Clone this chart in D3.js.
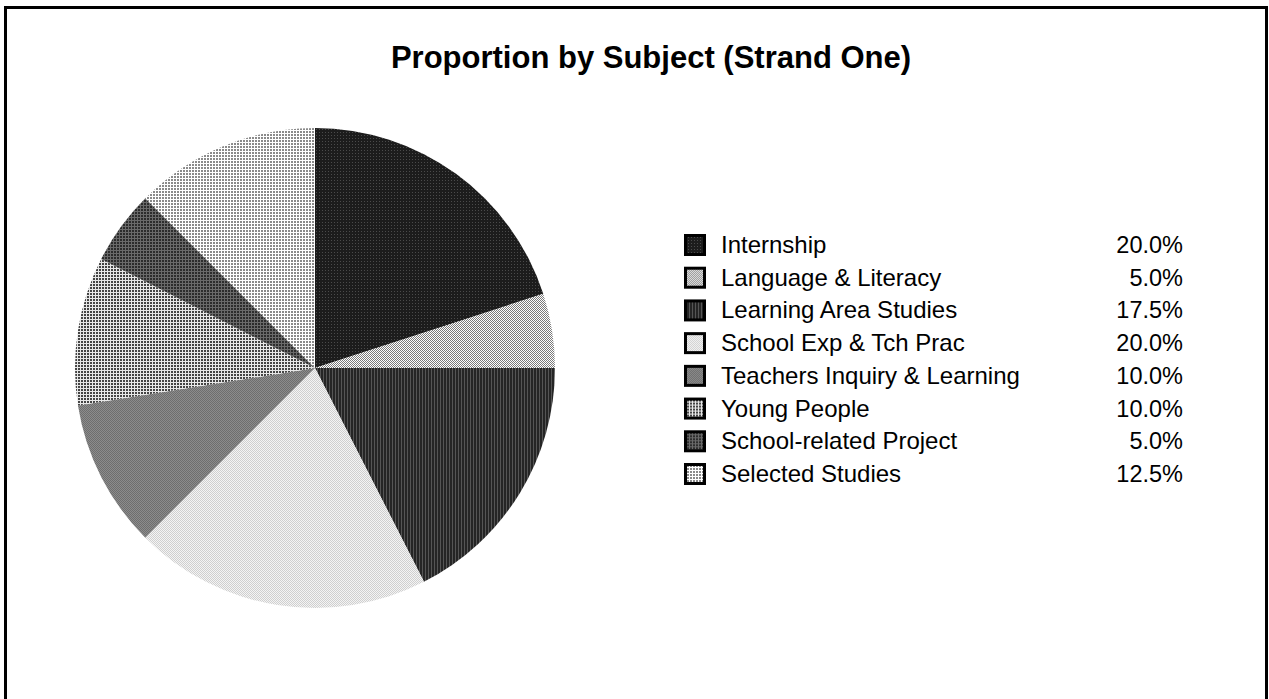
<!DOCTYPE html>
<html>
<head>
<meta charset="utf-8">
<script src="https://cdn.jsdelivr.net/npm/d3@7"></script>
<style>
  body { margin: 0; background: #fff; }
  svg { display: block; font-family: Arial, "Liberation Sans", sans-serif; }
</style>
</head>
<body>
<div id="chart"></div>
<script>
// ----------------------------------------------------------------------------
// Data
// ----------------------------------------------------------------------------

const subjects = ['Internship', 'Language & Literacy', 'Learning Area Studies', 'School Exp & Tch Prac',
  'Teachers Inquiry & Learning', 'Young People', 'School-related Project', 'Selected Studies'];
const shares = [20.0, 5.0, 17.5, 20.0, 10.0, 10.0, 5.0, 12.5];
const titleText = 'Proportion by Subject (Strand One)';

// fill patterns, one per slice (base colour, dot colour, tile type)
const patternDefs = [
  {bg: '#1c1c1c', fg: '#4a4a4a', kind: 'dot3'},
  {bg: '#7a7a7a', fg: '#ffffff', kind: 'check'},
  {bg: '#252525', fg: '#555555', kind: 'vstripe'},
  {bg: '#cfcfcf', fg: '#f4f4f4', kind: 'check'},
  {bg: '#6e6e6e', fg: '#8c8c8c', kind: 'check'},
  {bg: '#e8e8e8', fg: '#444444', kind: 'grid'},
  {bg: '#6a6a6a', fg: '#2c2c2c', kind: 'grid'},
  {bg: '#ffffff', fg: '#8a8a8a', kind: 'grid'},
];

const W = 1269, H = 699;

const svg = d3.select('#chart').append('svg')
  .attr('width', W)
  .attr('height', H);

// ----------------------------------------------------------------------------
// patterns
const defs = svg.append('defs');
patternDefs.forEach((p, i) => {
  const size = p.kind == 'check' ? 2 : 3;
  const pat = defs.append('pattern')
    .attr('id', `pat${i}`)
    .attr('patternUnits', 'userSpaceOnUse')
    .attr('width', size)
    .attr('height', size);
  pat.append('rect').attr('width', size).attr('height', size).attr('fill', p.bg);
  if (p.kind == 'check') {
    pat.append('rect').attr('x', 0).attr('y', 0).attr('width', 1).attr('height', 1).attr('fill', p.fg);
    pat.append('rect').attr('x', 1).attr('y', 1).attr('width', 1).attr('height', 1).attr('fill', p.fg);
  } else if (p.kind == 'dot3') {
    pat.append('rect').attr('x', 1).attr('y', 1).attr('width', 1).attr('height', 1).attr('fill', p.fg);
  } else if (p.kind == 'vstripe') {
    pat.append('rect').attr('x', 2).attr('y', 0).attr('width', 1).attr('height', 3).attr('fill', p.fg);
  } else if (p.kind == 'grid') {
    pat.append('rect').attr('x', 0).attr('y', 0).attr('width', 2).attr('height', 2).attr('fill', p.fg);
  }
});

// ----------------------------------------------------------------------------
// frame + title
svg.append('rect')
  .attr('x', 5.5).attr('y', 7.5)
  .attr('width', 1261).attr('height', 720)
  .attr('fill', 'none')
  .attr('stroke', '#000')
  .attr('stroke-width', 3);

svg.append('text')
  .text(titleText)
  .attr('x', 651)
  .attr('y', 68)
  .attr('text-anchor', 'middle')
  .style('font-size', '31px')
  .style('font-weight', 'bold');

// ----------------------------------------------------------------------------
// pie
const cx = 315, cy = 368, radius = 240;

const pie = d3.pie().sort(null).value(d => d);
const arc = d3.arc().innerRadius(0).outerRadius(radius);

svg.append('g')
  .attr('transform', `translate(${cx},${cy})`)
  .selectAll('path')
  .data(pie(shares))
  .enter()
  .append('path')
  .attr('d', arc)
  .attr('fill', (d, i) => `url(#pat${i})`)
  .attr('stroke', 'none');

// ----------------------------------------------------------------------------
// legend
const rowY = d3.scalePoint()
  .domain(subjects)
  .range([245, 474]);

const legend = svg.append('g');
const rows = legend.selectAll('g')
  .data(subjects)
  .enter()
  .append('g')
  .attr('transform', d => `translate(0,${rowY(d)})`);

rows.append('rect')
  .attr('x', 685.5).attr('y', -9.5)
  .attr('width', 19).attr('height', 19)
  .attr('fill', (d, i) => `url(#pat${i})`)
  .attr('stroke', '#000')
  .attr('stroke-width', 3);

rows.append('text')
  .text(d => d)
  .attr('x', 721)
  .attr('y', 8)
  .style('font-size', '24px');

rows.append('text')
  .text((d, i) => `${d3.format('.1f')(shares[i])}%`)
  .attr('x', 1183)
  .attr('y', 8)
  .attr('text-anchor', 'end')
  .style('font-size', '23.5px');
</script>
</body>
</html>
